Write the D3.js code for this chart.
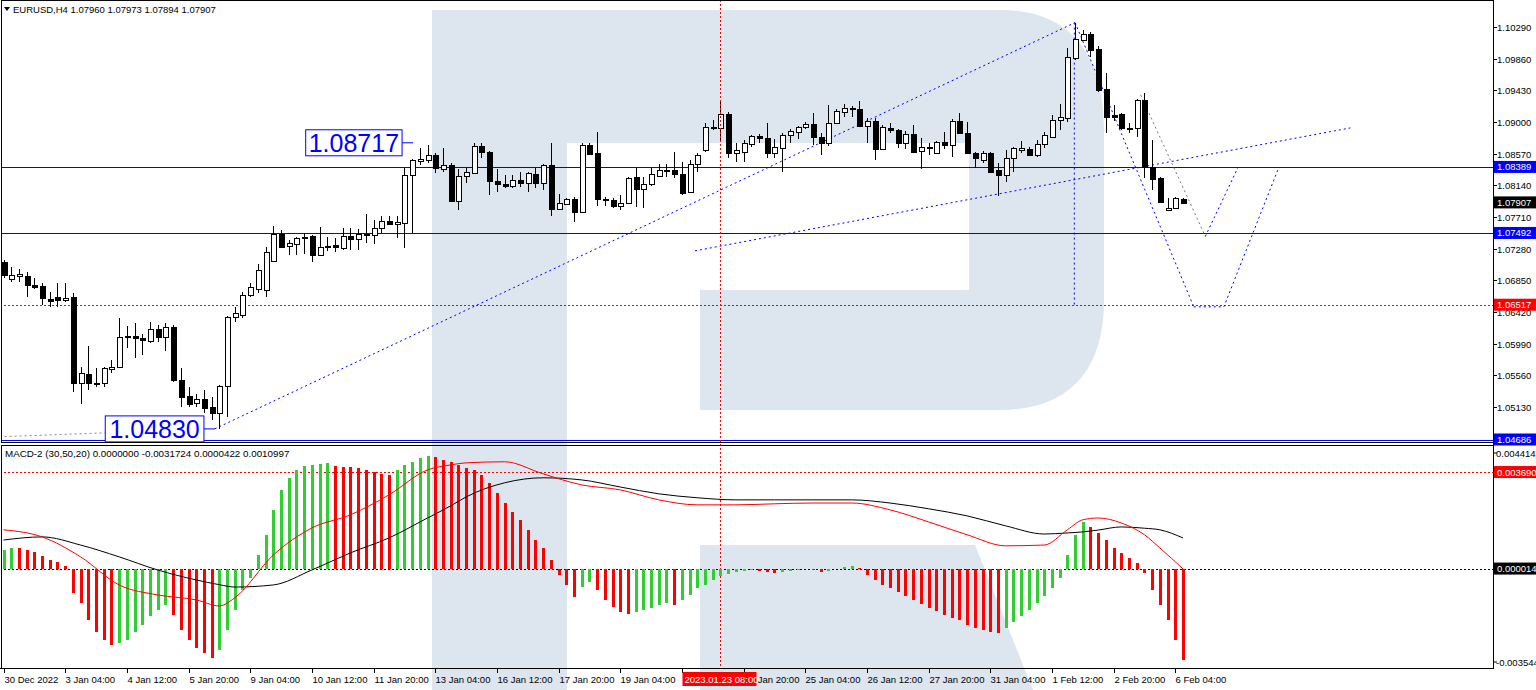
<!DOCTYPE html>
<html><head><meta charset="utf-8">
<script src="https://cdn.jsdelivr.net/npm/d3@7"></script>
<style>body{margin:0;background:#fff}svg{display:block}text{font-family:"Liberation Sans",Arial,sans-serif}.crisp{shape-rendering:crispEdges}</style>
</head><body><svg id="c" width="1536" height="690"></svg>
<script>
const symbolTitle = "EURUSD,H4  1.07960 1.07973 1.07894 1.07907";
const macdTitle = "MACD-2 (30,50,20) 0.0000000 -0.0031724 0.0000422 0.0010997";
const open  = [1.07099,1.06868,1.06909,1.06909,1.06787,1.06774,1.06597,1.06624,1.06583,1.06624,1.05456,1.05578,1.05456,1.05456,1.05646,1.05673,1.06081,1.06095,1.06067,1.06026,1.06189,1.06081,1.06216,1.05497,1.05280,1.05184,1.05239,1.05130,1.05048,1.05416,1.06352,1.06379,1.06651,1.06733,1.06719,1.07112,1.07480,1.07317,1.07344,1.07425,1.07453,1.07194,1.07317,1.07330,1.07289,1.07453,1.07412,1.07466,1.07466,1.07560,1.07655,1.07615,1.07628,1.08280,1.08470,1.08484,1.08552,1.08362,1.08416,1.07927,1.08267,1.08307,1.08675,1.08593,1.08199,1.08159,1.08132,1.08213,1.08172,1.08294,1.08172,1.08416,1.07819,1.07887,1.07955,1.07778,1.08688,1.08579,1.07955,1.07941,1.07860,1.07900,1.08253,1.08091,1.08159,1.08267,1.08334,1.08348,1.08294,1.08050,1.08430,1.08620,1.08932,1.08918,1.09109,1.08579,1.08593,1.08702,1.08811,1.08783,1.08579,1.08647,1.08824,1.08865,1.08932,1.08973,1.08797,1.08715,1.08986,1.09136,1.09177,1.09177,1.08946,1.09013,1.08634,1.08918,1.08892,1.08715,1.08838,1.08606,1.08661,1.08579,1.08729,1.08688,1.09013,1.08851,1.08579,1.08484,1.08579,1.08348,1.08280,1.08511,1.08620,1.08634,1.08552,1.08702,1.08797,1.09027,1.09054,1.09869,1.10114,1.10196,1.09992,1.09449,1.09095,1.09109,1.08918,1.08918,1.09299,1.08389,1.08239,1.07805,1.07832,1.07960];
const high  = [1.07126,1.07031,1.07004,1.06963,1.06881,1.06814,1.06692,1.06814,1.06814,1.06678,1.05673,1.05959,1.05659,1.05673,1.05768,1.06338,1.06230,1.06270,1.06122,1.06284,1.06243,1.06270,1.06243,1.05659,1.05402,1.05307,1.05361,1.05266,1.05429,1.06366,1.06488,1.06692,1.06814,1.07072,1.07303,1.07588,1.07534,1.07398,1.07439,1.07493,1.07466,1.07574,1.07439,1.07425,1.07560,1.07560,1.07547,1.07751,1.07669,1.07724,1.07724,1.07724,1.08375,1.08498,1.08647,1.08688,1.08579,1.08647,1.08443,1.08362,1.08375,1.08715,1.08715,1.08606,1.08362,1.08280,1.08280,1.08321,1.08321,1.08375,1.08430,1.08715,1.08023,1.07968,1.07982,1.08715,1.08715,1.08865,1.07982,1.07968,1.08009,1.08253,1.08375,1.08253,1.08375,1.08430,1.08430,1.08593,1.08457,1.08484,1.08579,1.08986,1.09027,1.09285,1.09136,1.08715,1.08756,1.08824,1.08838,1.08986,1.08770,1.08851,1.08905,1.08946,1.09000,1.09122,1.08851,1.09231,1.09177,1.09245,1.09218,1.09285,1.09054,1.09054,1.08959,1.08986,1.08905,1.08878,1.08959,1.08783,1.08715,1.08742,1.08865,1.09041,1.09122,1.09000,1.08593,1.08606,1.08593,1.08443,1.08620,1.08661,1.08742,1.08661,1.08756,1.08865,1.09095,1.09245,1.10005,1.10350,1.10250,1.10223,1.10033,1.09665,1.09231,1.09122,1.08986,1.09313,1.09394,1.08756,1.08253,1.07968,1.07982,1.07973];
const low   = [1.06881,1.06828,1.06828,1.06624,1.06733,1.06515,1.06488,1.06488,1.06556,1.05334,1.05171,1.05361,1.05402,1.05402,1.05591,1.05659,1.05931,1.05795,1.05836,1.05999,1.06013,1.05890,1.05470,1.05130,1.05130,1.05130,1.05048,1.04953,1.04830,1.04994,1.06284,1.06338,1.06624,1.06678,1.06624,1.07099,1.07289,1.07194,1.07194,1.07208,1.07099,1.07181,1.07248,1.07235,1.07262,1.07262,1.07262,1.07357,1.07344,1.07493,1.07601,1.07425,1.07289,1.07493,1.08416,1.08443,1.08307,1.08321,1.07914,1.07805,1.08172,1.08294,1.08511,1.08009,1.08050,1.08104,1.08104,1.08118,1.08050,1.08104,1.08077,1.07724,1.07805,1.07873,1.07642,1.07764,1.08552,1.07860,1.07860,1.07832,1.07805,1.07887,1.07846,1.07832,1.08132,1.08253,1.08253,1.08239,1.08009,1.08036,1.08321,1.08593,1.08892,1.08756,1.08511,1.08457,1.08457,1.08661,1.08715,1.08511,1.08511,1.08321,1.08715,1.08770,1.08905,1.08688,1.08552,1.08675,1.08973,1.09068,1.09068,1.08932,1.08715,1.08484,1.08620,1.08851,1.08647,1.08634,1.08579,1.08362,1.08552,1.08566,1.08634,1.08525,1.08838,1.08566,1.08375,1.08443,1.08307,1.07996,1.08186,1.08321,1.08579,1.08539,1.08525,1.08647,1.08783,1.08892,1.09000,1.09842,1.10100,1.09883,1.09408,1.08851,1.09013,1.08892,1.08851,1.08797,1.08239,1.08077,1.07900,1.07791,1.07819,1.07894];
const close = [1.06922,1.06922,1.06936,1.06787,1.06760,1.06610,1.06569,1.06583,1.06610,1.05456,1.05591,1.05456,1.05443,1.05659,1.05673,1.06081,1.06095,1.06067,1.06040,1.06189,1.06081,1.06216,1.05497,1.05266,1.05171,1.05239,1.05116,1.05048,1.05416,1.06352,1.06406,1.06651,1.06760,1.06990,1.07235,1.07480,1.07303,1.07357,1.07425,1.07439,1.07194,1.07303,1.07303,1.07303,1.07453,1.07412,1.07480,1.07480,1.07560,1.07655,1.07615,1.07642,1.08280,1.08484,1.08498,1.08552,1.08375,1.08416,1.07927,1.08267,1.08321,1.08675,1.08593,1.08199,1.08159,1.08132,1.08213,1.08172,1.08307,1.08172,1.08416,1.07819,1.07900,1.07955,1.07778,1.08688,1.08566,1.07955,1.07941,1.07860,1.07900,1.08239,1.08091,1.08159,1.08294,1.08348,1.08348,1.08294,1.08036,1.08430,1.08552,1.08932,1.08918,1.09109,1.08579,1.08620,1.08715,1.08811,1.08783,1.08579,1.08661,1.08824,1.08878,1.08932,1.08973,1.08797,1.08715,1.08986,1.09149,1.09190,1.09190,1.08946,1.09013,1.08634,1.08932,1.08892,1.08715,1.08838,1.08593,1.08661,1.08647,1.08729,1.08688,1.09013,1.08851,1.08579,1.08511,1.08579,1.08321,1.08280,1.08511,1.08647,1.08647,1.08552,1.08702,1.08824,1.09027,1.09068,1.09883,1.10128,1.10196,1.09978,1.09435,1.09068,1.09068,1.08918,1.08905,1.09299,1.08389,1.08226,1.07914,1.07832,1.07968,1.07907];
const macdHist = [0.00072,0.00080,0.00078,0.00072,0.00065,0.00050,0.00034,0.00027,0.00011,-0.00091,-0.00130,-0.00194,-0.00240,-0.00271,-0.00290,-0.00282,-0.00271,-0.00240,-0.00213,-0.00179,-0.00156,-0.00137,-0.00175,-0.00232,-0.00271,-0.00301,-0.00320,-0.00339,-0.00309,-0.00232,-0.00156,-0.00080,-0.00034,0.00053,0.00130,0.00225,0.00301,0.00347,0.00377,0.00392,0.00396,0.00400,0.00404,0.00392,0.00389,0.00388,0.00385,0.00377,0.00370,0.00362,0.00358,0.00377,0.00396,0.00408,0.00423,0.00431,0.00427,0.00415,0.00408,0.00396,0.00385,0.00377,0.00358,0.00328,0.00290,0.00251,0.00217,0.00187,0.00149,0.00110,0.00080,0.00034,-0.00023,-0.00061,-0.00107,-0.00069,-0.00050,-0.00080,-0.00118,-0.00145,-0.00164,-0.00171,-0.00164,-0.00156,-0.00149,-0.00137,-0.00130,-0.00137,-0.00118,-0.00099,-0.00072,-0.00061,-0.00042,-0.00027,-0.00019,-0.00011,-0.00008,-0.00004,-0.00008,-0.00011,-0.00015,-0.00011,-0.00008,-0.00004,0.00000,-0.00004,-0.00011,-0.00008,0.00000,0.00008,0.00011,0.00004,-0.00023,-0.00042,-0.00061,-0.00072,-0.00088,-0.00103,-0.00118,-0.00133,-0.00149,-0.00160,-0.00175,-0.00187,-0.00194,-0.00213,-0.00225,-0.00232,-0.00240,-0.00244,-0.00225,-0.00202,-0.00179,-0.00156,-0.00130,-0.00103,-0.00072,-0.00034,0.00053,0.00130,0.00179,0.00160,0.00137,0.00110,0.00080,0.00061,0.00042,0.00023,-0.00015,-0.00080,-0.00137,-0.00194,-0.00271,-0.00347];
const lineIdx   = [0,5,10,15,20,25,28,30,35,40,45,50,55,58,60,65,70,75,80,85,90,95,100,105,110,115,120,125,130,135,138,140,142,145,148,150,153];
const redLine   = [0.00149,0.00122,0.00046,-0.00061,-0.00099,-0.00118,-0.00141,-0.00110,0.00053,0.00156,0.00206,0.00282,0.00377,0.00396,0.00404,0.00408,0.00362,0.00320,0.00301,0.00263,0.00244,0.00244,0.00248,0.00251,0.00251,0.00225,0.00179,0.00130,0.00088,0.00091,0.00149,0.00187,0.00194,0.00175,0.00130,0.00080,0.00000];
const blackLine = [0.00110,0.00122,0.00091,0.00046,-0.00004,-0.00042,-0.00060,-0.00069,-0.00061,-0.00004,0.00061,0.00118,0.00194,0.00240,0.00274,0.00328,0.00347,0.00339,0.00312,0.00286,0.00271,0.00263,0.00263,0.00263,0.00263,0.00251,0.00229,0.00202,0.00164,0.00133,0.00137,0.00141,0.00148,0.00160,0.00155,0.00149,0.00118];
const tickIdx = [0,8,16,24,32,40,48,56,64,72,80,88,96,104,112,120,128,136,144,152];
const tickLabels = ["30 Dec 2022","3 Jan 04:00","4 Jan 12:00","5 Jan 20:00","9 Jan 04:00","10 Jan 12:00","11 Jan 20:00","13 Jan 04:00","16 Jan 12:00","17 Jan 20:00","19 Jan 04:00","20 Jan 12:00","23 Jan 20:00","25 Jan 04:00","26 Jan 12:00","27 Jan 20:00","31 Jan 04:00","1 Feb 12:00","2 Feb 20:00","6 Feb 04:00"];
const priceTicks = [1.10290,1.09860,1.09430,1.09000,1.08570,1.08140,1.07710,1.07280,1.06850,1.06420,1.05990,1.05560,1.05130];
const macdTicks = [0.0044147,-0.0035443];
const levelLines = [1.08389,1.07492];
const bottomLevel = 1.04686;
const redLevel = 1.06517;
const lastPrice = 1.07907;
const macdRedLevel = 0.0036900;
const macdZeroLevel = 0.0000140;
const crossIdx = 93, crossLabel = "2023.01.23 08:00", crossLabelIdx = 88;
const priceLabels = [{idx:[39.2,51.7], price:1.08717, text:"1.08717"},{idx:[13.2,26.0], price:1.04830, text:"1.04830"}];
const trendMain = [[27.4,1.04830],[139,1.10350]];
const trendLow  = [[89.7,1.07249],[174.7,1.08919]];
const trendGray = [[-0.5,1.04723],[13.4,1.04777]];
const projV1 = [[139,1.10350],[154.4,1.06488]];
const projVert = [[138.9,1.10350],[138.9,1.06488]];
const projUp1 = [[154.4,1.06488],[158.3,1.06488],[165.4,1.08375]];
const projGrayDown = [[147.5,1.09367],[155.9,1.07446]];
const projUp2 = [[155.9,1.07446],[160.1,1.08375]];

const W=1536,H=690,R=1493;
const svg=d3.select('#c');
const defs=svg.append('defs');
defs.append('clipPath').attr('id','cp').append('rect').attr('x',2).attr('y',1).attr('width',R-2).attr('height',441);
defs.append('clipPath').attr('id','cm').append('rect').attr('x',2).attr('y',446).attr('width',R-2).attr('height',222);
defs.append('clipPath').attr('id','ca').append('rect').attr('x',2).attr('y',0).attr('width',R-2).attr('height',690);

const x=d3.scaleLinear().domain([0,153]).range([3.5,1183]);
const y=d3.scaleLinear().domain([1.04686,1.10290]).range([439.5,27]);
const ym=d3.scaleLinear().domain([-0.0035443,0.0044147]).range([662,453]);
const BLUE='#0000ff', RED='#ff0000', LOGO='#dde5ef';

svg.append('rect').attr('width',W).attr('height',H).attr('fill','#fff');
const lg=svg.append('g').attr('clip-path','url(#ca)').attr('fill',LOGO);
lg.append('rect').attr('x',432).attr('y',10).attr('width',135).attr('height',680);
lg.append('path').attr('d','M567,10 H1000 C1075,10 1104,60 1104,130 V300 C1104,370 1070,410 1000,410 H700 V290 H969 V143 H567 Z');
lg.append('path').attr('d','M700,545 H975 L1033,690 H700 Z');

const gp=svg.append('g').attr('clip-path','url(#cp)');
const hl=(g,v,sc,c,da)=>{const yy=Math.round(sc(v))+0.5;const l=g.append('line').attr('class','crisp').attr('x1',0).attr('x2',R).attr('y1',yy).attr('y2',yy).attr('stroke',c).attr('stroke-width',1);if(da)l.attr('stroke-dasharray',da);};
levelLines.forEach(p=>hl(gp,p,y,BLUE));
hl(gp,bottomLevel,y,BLUE);
hl(gp,redLevel,y,RED,'2,2');
const ln=d3.line().x(d=>x(d[0])).y(d=>y(d[1]));
[[trendMain,BLUE],[trendLow,BLUE],[trendGray,'#888'],[projV1,BLUE],[projVert,BLUE],[projUp1,BLUE],[projGrayDown,'#777'],[projUp2,BLUE]].forEach(([d,c])=>gp.append('path').attr('d',ln(d)).attr('fill','none').attr('stroke',c).attr('stroke-dasharray','2,3'));

const idx=d3.range(open.length);
const cg=gp.append('g').attr('class','crisp');
cg.selectAll('line').data(idx).join('line').attr('x1',i=>Math.round(x(i))+0.5).attr('x2',i=>Math.round(x(i))+0.5).attr('y1',i=>y(high[i])).attr('y2',i=>y(low[i])).attr('stroke','#000');
cg.selectAll('rect').data(idx).join('rect')
  .attr('x',i=>Math.round(x(i))-2).attr('width',5)
  .attr('y',i=>Math.round(y(Math.max(open[i],close[i])))+0.5)
  .attr('height',i=>Math.max(0,Math.round(Math.abs(y(open[i])-y(close[i])))))
  .attr('fill',i=>close[i]>=open[i]?'#fff':'#000').attr('stroke','#000');

svg.append('line').attr('class','crisp').attr('x1',Math.round(x(crossIdx))+0.5).attr('x2',Math.round(x(crossIdx))+0.5).attr('y1',0).attr('y2',668).attr('stroke',RED).attr('stroke-dasharray','2,2');

priceLabels.forEach(l=>{
  const yy=y(l.price), x0=x(l.idx[0]), x1=x(l.idx[1]);
  svg.append('rect').attr('x',x0).attr('y',yy-13).attr('width',x1-x0).attr('height',26).attr('fill','#fff').attr('stroke',BLUE);
  svg.append('text').attr('x',(x0+x1)/2).attr('y',yy+9).attr('text-anchor','middle').attr('font-size',25).attr('fill',BLUE).text(l.text);
  svg.append('line').attr('x1',x1).attr('x2',x1+11).attr('y1',yy).attr('y2',yy).attr('stroke',BLUE);
});

const gm=svg.append('g').attr('clip-path','url(#cm)');
hl(gm,macdRedLevel,ym,RED,'2,2');
hl(gm,macdZeroLevel,ym,'#000','2,2');
gm.selectAll('rect').data(idx).join('rect').attr('class','crisp')
  .attr('x',i=>Math.round(x(i))-1).attr('width',3)
  .attr('y',i=>Math.min(ym(0),ym(macdHist[i])))
  .attr('height',i=>Math.abs(ym(macdHist[i])-ym(0)))
  .attr('fill',i=>(i===0||macdHist[i]>=macdHist[i-1])?'#32cd32':RED);
const lm=d3.line().x((d,k)=>x(lineIdx[k])).y(d=>ym(d)).curve(d3.curveMonotoneX);
gm.append('path').attr('d',lm(blackLine)).attr('fill','none').attr('stroke','#000');
gm.append('path').attr('d',lm(redLine)).attr('fill','none').attr('stroke',RED);

svg.append('rect').attr('class','crisp').attr('x',1.5).attr('y',0.5).attr('width',R-1).attr('height',442).attr('fill','none').attr('stroke','#000');
svg.append('rect').attr('class','crisp').attr('x',1.5).attr('y',445.5).attr('width',R-1).attr('height',223).attr('fill','none').attr('stroke','#000');

svg.append('path').attr('d','M4,7 L10,7 L7,11 Z').attr('fill','#000');
svg.append('text').attr('x',13).attr('y',13).attr('font-size',9.5).text(symbolTitle);
svg.append('text').attr('x',5).attr('y',457).attr('font-size',9.8).text(macdTitle);

const ax=svg.append('g').attr('font-size',9.5);
priceTicks.forEach(p=>{const yy=Math.round(y(p))+0.5;ax.append('line').attr('x1',R).attr('x2',R+4).attr('y1',yy).attr('y2',yy).attr('stroke','#000');ax.append('text').attr('x',R+4).attr('y',yy+3.5).text(p.toFixed(5));});
function box(yy,fill,txt){ax.append('rect').attr('x',R+1).attr('y',yy-6).attr('width',W-R-1).attr('height',12).attr('fill',fill);ax.append('text').attr('x',R+4).attr('y',yy+3.5).attr('fill','#fff').text(txt);}
levelLines.forEach(p=>box(y(p),BLUE,p.toFixed(5)));
box(y(lastPrice),'#000',lastPrice.toFixed(5));
box(y(redLevel),RED,redLevel.toFixed(5));
box(y(bottomLevel),BLUE,bottomLevel.toFixed(5));
macdTicks.forEach(v=>{const yy=ym(v);ax.append('line').attr('x1',R).attr('x2',R+4).attr('y1',yy).attr('y2',yy).attr('stroke','#000');ax.append('text').attr('x',R+3).attr('y',yy+3.5).text(v.toFixed(7));});
box(ym(macdRedLevel),RED,macdRedLevel.toFixed(7));
box(ym(macdZeroLevel),'#000',macdZeroLevel.toFixed(7));
svg.append('line').attr('class','crisp').attr('x1',R+0.5).attr('x2',R+0.5).attr('y1',0).attr('y2',668).attr('stroke','#000');

const tx=svg.append('g').attr('font-size',9.5);
tx.append('line').attr('class','crisp').attr('x1',0).attr('x2',R+1).attr('y1',668.5).attr('y2',668.5).attr('stroke','#000');
tickIdx.forEach((t,k)=>{const xx=Math.round(x(t))+0.5;tx.append('line').attr('x1',xx).attr('x2',xx).attr('y1',668).attr('y2',673).attr('stroke','#000');if(t!==crossLabelIdx)tx.append('text').attr('x',xx).attr('y',683).text(tickLabels[k]);});
const cx=Math.round(x(crossLabelIdx))+0.5;
tx.append('rect').attr('x',cx).attr('y',672).attr('width',74).attr('height',14).attr('fill',RED);
tx.append('text').attr('x',cx+2).attr('y',683).attr('fill','#fff').text(crossLabel);
</script></body></html>
